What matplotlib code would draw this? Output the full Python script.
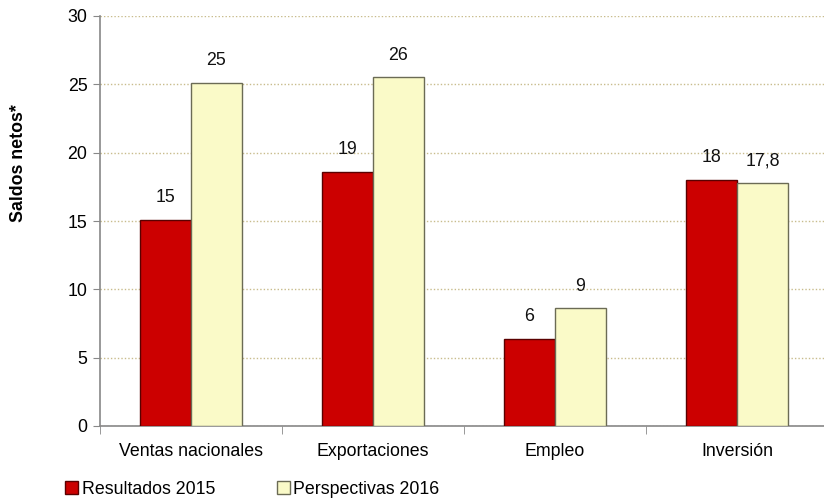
import matplotlib
matplotlib.use("Agg")
import matplotlib.pyplot as plt
import numpy as np

plt.rcParams['font.family'] = ['Liberation Sans', 'DejaVu Sans']

categories = ["Ventas nacionales", "Exportaciones", "Empleo", "Inversión"]
res_2015 = [15.1, 18.6, 6.4, 18.0]
per_2016 = [25.1, 25.5, 8.6, 17.8]
res_labels = ["15", "19", "6", "18"]
per_labels = ["25", "26", "9", "17,8"]
series_names = ["Resultados 2015", "Perspectivas 2016"]

FS = 12.8

fig = plt.figure(figsize=(8.24, 4.99), dpi=100)
ax = fig.add_axes([100/824, (499-426)/499, 728/824, 410/499])

x = np.arange(len(categories))
w = 0.28
b1 = ax.bar(x - w/2, res_2015, w, color="#cc0000", edgecolor="#5a0000", linewidth=1.0, zorder=3, label=series_names[0])
b2 = ax.bar(x + w/2, per_2016, w, color="#fafac8", edgecolor="#6b6b55", linewidth=1.0, zorder=3, label=series_names[1])

for rect, lab in zip(b1, res_labels):
    ax.text(rect.get_x() + rect.get_width()/2, rect.get_height() + 1.0, lab,
            ha="center", va="bottom", fontsize=FS, color="#111111")
for rect, lab in zip(b2, per_labels):
    ax.text(rect.get_x() + rect.get_width()/2, rect.get_height() + 1.0, lab,
            ha="center", va="bottom", fontsize=FS, color="#111111")

ax.set_ylim(0, 30)
ax.set_xlim(-0.5, 3.5)
ax.set_yticks(np.arange(0, 31, 5))
ax.tick_params(axis="y", labelsize=FS, length=5, color="#888888", pad=4)
ax.set_xticks(x)
ax.set_xticklabels(categories, fontsize=FS)
ax.set_xticks(np.arange(-0.5, 4.0, 1.0), minor=True)
ax.tick_params(axis="x", which="major", length=0, pad=12)
ax.tick_params(axis="x", which="minor", length=6, color="#888888")

ax.yaxis.grid(True, linestyle=(0, (1, 1.5)), color="#c8bc8c", linewidth=1.0, zorder=0)
ax.set_axisbelow(True)
for s in ["top", "right"]:
    ax.spines[s].set_visible(False)
for s in ["left", "bottom"]:
    ax.spines[s].set_color("#888888")
    ax.spines[s].set_linewidth(1.2)

fig.text(19/824, 1 - 163/499, "Saldos netos*", rotation=90, fontsize=FS,
         fontweight="bold", ha="center", va="center")

fig.legend(handles=[b1, b2], labels=series_names, loc="center left",
           bbox_to_anchor=(49/824, 1 - 489/499), ncol=2, frameon=False, fontsize=FS,
           handlelength=0.75, handleheight=0.75, handletextpad=0.2, columnspacing=3.45)

fig.savefig("out.png", dpi=100)
